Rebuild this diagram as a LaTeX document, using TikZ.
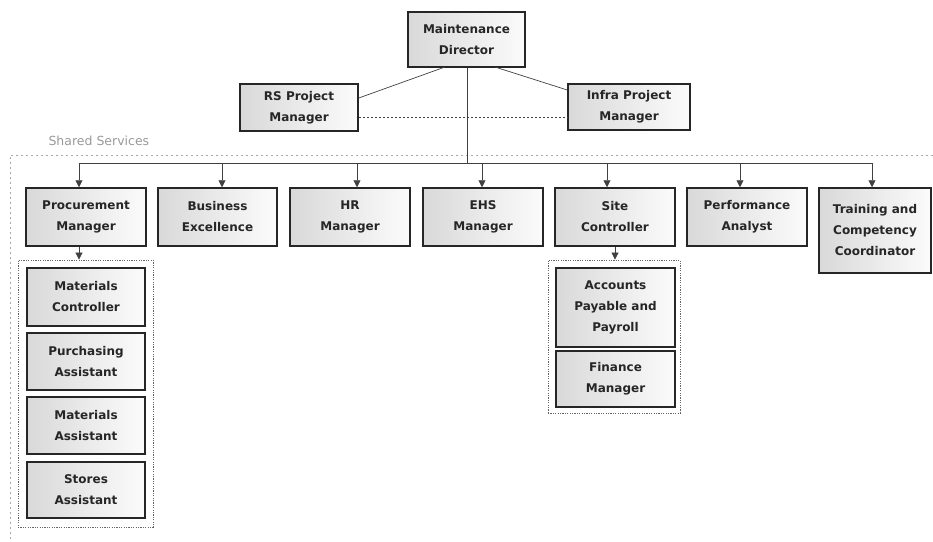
\documentclass[tikz,border=0pt]{standalone}
\usepackage{fontspec}
\setmainfont{DejaVu Sans}
\usetikzlibrary{arrows.meta}
\begin{document}
\begin{tikzpicture}[x=1pt,y=-1pt,
  box/.style={draw=black!85, line width=1.5pt, left color=gray!30, right color=gray!3,
    align=center, inner sep=2pt, font=\bfseries\fontsize{12}{21}\selectfont, text=black!85},
  link/.style={draw=black!75, line width=0.7pt},
  tap/.style={link, -{Triangle[width=7pt,length=7pt]}},
  grp/.style={draw=black!60, line width=0.8pt, dash pattern=on 1.2pt off 1.2pt},
  area/.style={draw=black!35, line width=0.8pt, dash pattern=on 2pt off 3pt}]
\useasboundingbox (0,0) rectangle (933,541);

% management
\node[box, minimum width=117pt, minimum height=55pt] (md)    at (466.5,39.5) {Maintenance\\Director};
\node[box, minimum width=118pt, minimum height=47pt] (rs)    at (299,107.5)  {RS Project\\Manager};
\node[box, minimum width=122pt, minimum height=46pt] (infra) at (629,107)    {Infra Project\\Manager};

\draw[link] (445,67) -- ([yshift=9.5pt]rs.east);
\draw[link] (495,67) -- ([yshift=17pt]infra.west);
\draw[link, dash pattern=on 2pt off 2pt] ([yshift=-9.5pt]rs.east) -- ([yshift=-10pt]infra.west);

% shared services area
\node[text=black!40, font=\fontsize{12.5}{14}\selectfont, anchor=west] (ss) at (45,141) {Shared Services};
\draw[area] (933,155) -- (10,155) -- (10,541);

% department heads
\node[box, minimum width=120pt, minimum height=58pt] (proc) at (86,217)  {Procurement\\Manager};
\node[box, minimum width=119pt, minimum height=58pt] (bex)  at (217.5,217) {Business\\Excellence};
\node[box, minimum width=120pt, minimum height=58pt] (hr)   at (350,217) {HR\\Manager};
\node[box, minimum width=120pt, minimum height=58pt] (ehs)  at (483,217) {EHS\\Manager};
\node[box, minimum width=120pt, minimum height=58pt] (site) at (615,217) {Site\\Controller};
\node[box, minimum width=120pt, minimum height=58pt] (perf) at (747,217) {Performance\\Analyst};
\node[box, minimum width=112pt, minimum height=85pt] (trn)  at (875,230.5) {Training and\\Competency\\Coordinator};

% bus from the director
\coordinate (b0) at (467,163);
\coordinate (bl) at (79,163);
\coordinate (br) at (872,163);
\draw[link] (md.south -| b0) -- (b0);
\draw[link] (bl) -- (br);
\foreach \n/\xx in {proc/79, bex/222, hr/357, ehs/482, site/607, perf/740, trn/872}
  \draw[tap] (\xx,163) -- (\n.north -| \xx,0);

% procurement team
\node[grp, minimum width=135pt, minimum height=267pt] (pgrp) at (85.5,393.5) {};
\node[box, minimum width=118pt, minimum height=58pt] (mc) at (86,297)   {Materials\\Controller};
\node[box, minimum width=118pt, minimum height=57pt] (pa) at (86,361.5) {Purchasing\\Assistant};
\node[box, minimum width=118pt, minimum height=57pt] (ma) at (86,425.5) {Materials\\Assistant};
\node[box, minimum width=118pt, minimum height=56pt] (sa) at (86,490)   {Stores\\Assistant};
\draw[tap] (proc.south -| 79,0) -- (pgrp.north -| 79,0);

% finance team
\node[grp, minimum width=132pt, minimum height=153pt] (sgrp) at (614,336.5) {};
\node[box, minimum width=119pt, minimum height=79pt] (acc) at (615.5,307.5) {Accounts\\Payable and\\Payroll};
\node[box, minimum width=119pt, minimum height=56pt] (fin) at (615.5,379)   {Finance\\Manager};
\draw[tap] (site.south) -- (sgrp.north -| site.south);
\end{tikzpicture}
\end{document}
